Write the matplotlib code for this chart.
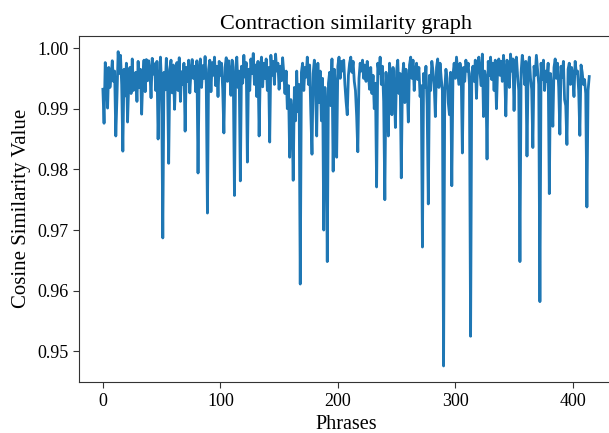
import numpy as np
import matplotlib
matplotlib.use('Agg')
import matplotlib.pyplot as plt

plt.rcParams['font.family'] = 'Liberation Serif'

# cosine similarity per phrase (index 0..414)
sim_000 = [0.9932, 0.9876, 0.9976, 0.9958, 0.9901, 0.9968, 0.9935, 0.9952, 0.9979, 0.9945,
           0.9962, 0.9855, 0.9920, 0.9994, 0.9958, 0.9988, 0.9940, 0.9830, 0.9965, 0.9921,
           0.9975, 0.9878, 0.9940, 0.9968, 0.9925, 0.9982, 0.9930, 0.9948, 0.9960, 0.9912,
           0.9978, 0.9935, 0.9965, 0.9891, 0.9952, 0.9980, 0.9928, 0.9981, 0.9946, 0.9979,
           0.9962, 0.9918, 0.9983, 0.9957, 0.9974, 0.9930, 0.9978, 0.9850, 0.9942, 0.9985,
           0.9935, 0.9687, 0.9960, 0.9931, 0.9983, 0.9948, 0.9810, 0.9965, 0.9980, 0.9926,
           0.9972, 0.9899, 0.9958, 0.9976, 0.9930, 0.9984, 0.9912, 0.9961, 0.9940, 0.9975,
           0.9863, 0.9968, 0.9945, 0.9980, 0.9926, 0.9962, 0.9981, 0.9950, 0.9970, 0.9928,
           0.9979, 0.9794, 0.9962, 0.9982, 0.9935, 0.9971, 0.9950, 0.9986, 0.9941, 0.9728,
           0.9965, 0.9980, 0.9928, 0.9976, 0.9955, 0.9985, 0.9938, 0.9970, 0.9920, 0.9978]
sim_100 = [0.9955, 0.9975, 0.9932, 0.9860, 0.9968, 0.9984, 0.9945, 0.9979, 0.9960, 0.9922,
           0.9980, 0.9950, 0.9757, 0.9968, 0.9985, 0.9935, 0.9962, 0.9781, 0.9970, 0.9942,
           0.9988, 0.9952, 0.9976, 0.9812, 0.9965, 0.9930, 0.9982, 0.9958, 0.9991, 0.9940,
           0.9972, 0.9920, 0.9978, 0.9855, 0.9962, 0.9985, 0.9936, 0.9975, 0.9950, 0.9982,
           0.9930, 0.9968, 0.9845, 0.9988, 0.9955, 0.9978, 0.9940, 0.9990, 0.9962, 0.9975,
           0.9932, 0.9970, 0.9946, 0.9984, 0.9958, 0.9925, 0.9962, 0.9900, 0.9938, 0.9820,
           0.9915, 0.9890, 0.9782, 0.9935, 0.9880, 0.9962, 0.9895, 0.9940, 0.9611, 0.9960,
           0.9975, 0.9930, 0.9968, 0.9952, 0.9985, 0.9940, 0.9972, 0.9892, 0.9825, 0.9958,
           0.9980, 0.9930, 0.9855, 0.9975, 0.9910, 0.9962, 0.9880, 0.9950, 0.9700, 0.9935,
           0.9895, 0.9648, 0.9942, 0.9960, 0.9905, 0.9982, 0.9797, 0.9965, 0.9935, 0.9820]
sim_200 = [0.9970, 0.9985, 0.9950, 0.9978, 0.9962, 0.9980, 0.9940, 0.9912, 0.9890, 0.9955,
           0.9975, 0.9985, 0.9960, 0.9978, 0.9945, 0.9930, 0.9888, 0.9829, 0.9950, 0.9975,
           0.9962, 0.9980, 0.9950, 0.9972, 0.9945, 0.9978, 0.9958, 0.9932, 0.9968, 0.9925,
           0.9955, 0.9900, 0.9942, 0.9771, 0.9975, 0.9958, 0.9985, 0.9940, 0.9970, 0.9912,
           0.9750, 0.9960, 0.9930, 0.9855, 0.9975, 0.9948, 0.9890, 0.9968, 0.9935, 0.9869,
           0.9962, 0.9980, 0.9925, 0.9958, 0.9786, 0.9950, 0.9975, 0.9910, 0.9965, 0.9940,
           0.9878, 0.9972, 0.9985, 0.9950, 0.9980, 0.9930, 0.9962, 0.9975, 0.9948, 0.9968,
           0.9920, 0.9938, 0.9672, 0.9958, 0.9935, 0.9970, 0.9905, 0.9743, 0.9955, 0.9930,
           0.9978, 0.9962, 0.9940, 0.9887, 0.9968, 0.9982, 0.9935, 0.9975, 0.9950, 0.9930,
           0.9476, 0.9930, 0.9965, 0.9950, 0.9910, 0.9890, 0.9960, 0.9773, 0.9955, 0.9975]
sim_300 = [0.9950, 0.9985, 0.9962, 0.9940, 0.9975, 0.9958, 0.9827, 0.9968, 0.9945, 0.9980,
           0.9962, 0.9975, 0.9940, 0.9525, 0.9958, 0.9970, 0.9945, 0.9980, 0.9917, 0.9975,
           0.9985, 0.9960, 0.9938, 0.9990, 0.9887, 0.9962, 0.9950, 0.9817, 0.9978, 0.9955,
           0.9985, 0.9948, 0.9975, 0.9930, 0.9980, 0.9900, 0.9965, 0.9982, 0.9955, 0.9978,
           0.9945, 0.9988, 0.9960, 0.9888, 0.9980, 0.9970, 0.9935, 0.9990, 0.9962, 0.9982,
           0.9897, 0.9975, 0.9985, 0.9955, 0.9930, 0.9648, 0.9960, 0.9988, 0.9972, 0.9940,
           0.9978, 0.9822, 0.9965, 0.9985, 0.9950, 0.9932, 0.9836, 0.9970, 0.9955, 0.9988,
           0.9965, 0.9940, 0.9582, 0.9975, 0.9948, 0.9980, 0.9930, 0.9962, 0.9945, 0.9975,
           0.9760, 0.9958, 0.9930, 0.9871, 0.9968, 0.9982, 0.9950, 0.9975, 0.9935, 0.9858,
           0.9970, 0.9952, 0.9978, 0.9915, 0.9905, 0.9841, 0.9965, 0.9975, 0.9940, 0.9968]
sim_400 = [0.9955, 0.9920, 0.9978, 0.9958, 0.9962, 0.9930, 0.9856, 0.9972, 0.9960, 0.9940,
           0.9948, 0.9925, 0.9738, 0.9930, 0.9953]

similarity = np.array(sim_000 + sim_100 + sim_200 + sim_300 + sim_400)
phrases = np.arange(len(similarity))

fig = plt.figure(figsize=(6.09, 4.33), dpi=100)
ax = fig.add_axes([0.129, 0.1185, 0.8785, 0.7985])

ax.plot(phrases, similarity, color='#1f77b4', linewidth=2)

ax.set_title("Contraction similarity graph", fontsize=16, pad=5)
ax.set_xlabel("Phrases", fontsize=14.5, labelpad=4)
ax.set_ylabel("Cosine Similarity Value", fontsize=15, labelpad=5)
ax.set_xticks([0, 100, 200, 300, 400])
ax.set_yticks([0.95, 0.96, 0.97, 0.98, 0.99, 1.00])
ax.tick_params(axis='both', labelsize=13, length=4, color='#333333')
ax.tick_params(axis='x', pad=4)
ax.tick_params(axis='y', pad=3)
for s in ax.spines.values():
    s.set_color('#333333')

plt.savefig('out.png', dpi=100)
